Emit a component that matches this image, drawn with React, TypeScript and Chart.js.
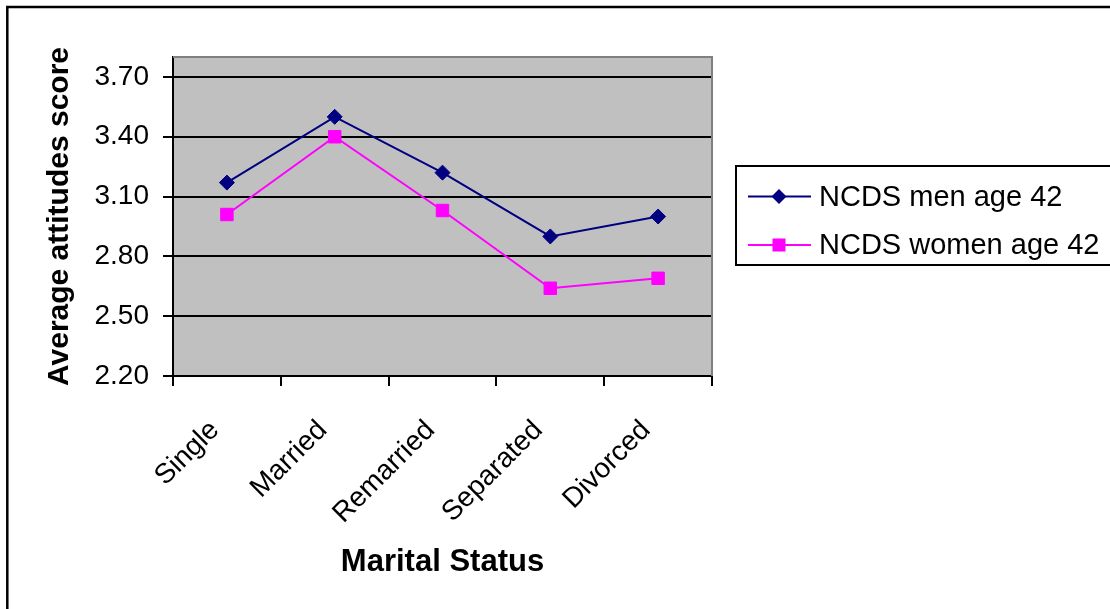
import React, { useEffect, useRef } from "react";
import { Chart, registerables } from "chart.js";

Chart.register(...registerables);

// Marital status categories on the x axis
const categories = ["Single", "Married", "Remarried", "Separated", "Divorced"];

// Average attitudes score by marital status
const menAge42 = [3.17, 3.5, 3.22, 2.9, 3.0];
const womenAge42 = [3.01, 3.4, 3.03, 2.64, 2.69];

// Y axis tick values
const yTicks = [2.2, 2.5, 2.8, 3.1, 3.4, 3.7];

const seriesLabels = ["NCDS men age 42", "NCDS women age 42"];

const FONT = "'Liberation Sans', Arial, sans-serif";
const W = 1110;
const H = 609;

// Grey plot background, outer frame and boxed legend
const decorPlugin = {
  id: "decor",
  beforeDraw(chart: any) {
    const { ctx, chartArea: a } = chart;
    ctx.save();
    ctx.fillStyle = "#ffffff";
    ctx.fillRect(0, 0, chart.width, chart.height);
    ctx.fillStyle = "#c0c0c0";
    ctx.fillRect(a.left, a.top, a.right - a.left, a.bottom - a.top);
    ctx.restore();
  },
  afterDraw(chart: any) {
    const { ctx, chartArea: a } = chart;
    ctx.save();
    // top and right edges of the plot area
    ctx.strokeStyle = "#808080";
    ctx.lineWidth = 2;
    ctx.beginPath();
    ctx.moveTo(a.left, a.top);
    ctx.lineTo(a.right, a.top);
    ctx.lineTo(a.right, a.bottom);
    ctx.stroke();

    // outer chart frame
    ctx.strokeStyle = "#000000";
    ctx.lineWidth = 2.5;
    ctx.beginPath();
    ctx.moveTo(7.3, chart.height + 5);
    ctx.lineTo(7.3, 7);
    ctx.lineTo(chart.width + 5, 7);
    ctx.stroke();

    // legend box
    const lx = 736;
    const ly = 166;
    const lh = 99;
    ctx.lineWidth = 2;
    ctx.strokeRect(lx, ly, chart.width - lx + 10, lh);

    const rows = [196.5, 245];
    chart.data.datasets.forEach((ds: any, i: number) => {
      const y = rows[i];
      ctx.strokeStyle = ds.borderColor;
      ctx.lineWidth = 2;
      ctx.beginPath();
      ctx.moveTo(748, y);
      ctx.lineTo(811, y);
      ctx.stroke();
      ctx.fillStyle = ds.backgroundColor;
      ctx.beginPath();
      if (ds.pointStyle === "rectRot") {
        const r = 7.5;
        ctx.moveTo(779, y - r);
        ctx.lineTo(779 + r, y);
        ctx.lineTo(779, y + r);
        ctx.lineTo(779 - r, y);
        ctx.closePath();
      } else {
        ctx.rect(779 - 6.5, y - 6.5, 13, 13);
      }
      ctx.fill();
      ctx.fillStyle = "#000000";
      ctx.font = `29px ${FONT}`;
      ctx.textBaseline = "middle";
      ctx.textAlign = "left";
      ctx.fillText(ds.label, 819, y + 1);
    });
    ctx.restore();
  },
};

export default function App() {
  const canvasRef = useRef<HTMLCanvasElement | null>(null);

  useEffect(() => {
    const canvas = canvasRef.current;
    if (!canvas) return;
    const chart = new Chart(canvas, {
      type: "line",
      data: {
        labels: categories,
        datasets: [
          {
            label: seriesLabels[0],
            data: menAge42,
            borderColor: "#000080",
            backgroundColor: "#000080",
            borderWidth: 2,
            pointStyle: "rectRot",
            pointRadius: 7.5,
            pointBorderWidth: 1,
            pointBackgroundColor: "#000080",
            pointBorderColor: "#000080",
            tension: 0,
          },
          {
            label: seriesLabels[1],
            data: womenAge42,
            borderColor: "#ff00ff",
            backgroundColor: "#ff00ff",
            borderWidth: 2,
            pointStyle: "rect",
            pointRadius: 8.8,
            pointBorderWidth: 1,
            pointBackgroundColor: "#ff00ff",
            pointBorderColor: "#ff00ff",
            tension: 0,
          },
        ],
      },
      options: {
        animation: false,
        responsive: false,
        maintainAspectRatio: false,
        layout: { padding: { left: 0, top: 57, right: 398, bottom: 0 } },
        plugins: {
          legend: { display: false },
          tooltip: { enabled: false },
        },
        scales: {
          x: {
            type: "category",
            offset: true,
            grid: {
              offset: true,
              drawOnChartArea: false,
              drawTicks: true,
              tickLength: 10,
              color: "#000000",
              lineWidth: 2,
            },
            border: { display: true, color: "#000000", width: 2 },
            ticks: {
              autoSkip: false,
              minRotation: 45,
              maxRotation: 45,
              padding: 28,
              labelOffset: -12,
              color: "#000000",
              font: { family: FONT, size: 28 },
            },
            title: {
              display: true,
              text: "Marital Status",
              color: "#000000",
              font: { family: FONT, size: 31, weight: "bold" },
              padding: { top: 0, bottom: 28 },
            },
            afterFit(scale: any) {
              scale.height = 233;
            },
          },
          y: {
            type: "linear",
            min: 2.2,
            max: 3.8,
            afterBuildTicks(scale: any) {
              scale.ticks = yTicks.map((v) => ({ value: v }));
            },
            grid: {
              drawTicks: true,
              tickLength: 10,
              color: "#000000",
              lineWidth: 2,
            },
            border: { display: true, color: "#000000", width: 2 },
            ticks: {
              padding: 14,
              color: "#000000",
              font: { family: FONT, size: 28 },
              callback: (v: any) => Number(v).toFixed(2),
            },
            title: {
              display: true,
              text: "Average attitudes score",
              color: "#000000",
              font: { family: FONT, size: 30, weight: "bold" },
              padding: { top: 42, bottom: 0 },
            },
            afterFit(scale: any) {
              scale.width = 173;
            },
          },
        },
      },
      plugins: [decorPlugin],
    });
    return () => chart.destroy();
  }, []);

  return (
    <div
      style={{
        position: "fixed",
        left: 0,
        top: 0,
        width: W,
        height: H,
        background: "#ffffff",
      }}
    >
      <canvas ref={canvasRef} width={W} height={H} style={{ width: W, height: H, display: "block" }} />
    </div>
  );
}
